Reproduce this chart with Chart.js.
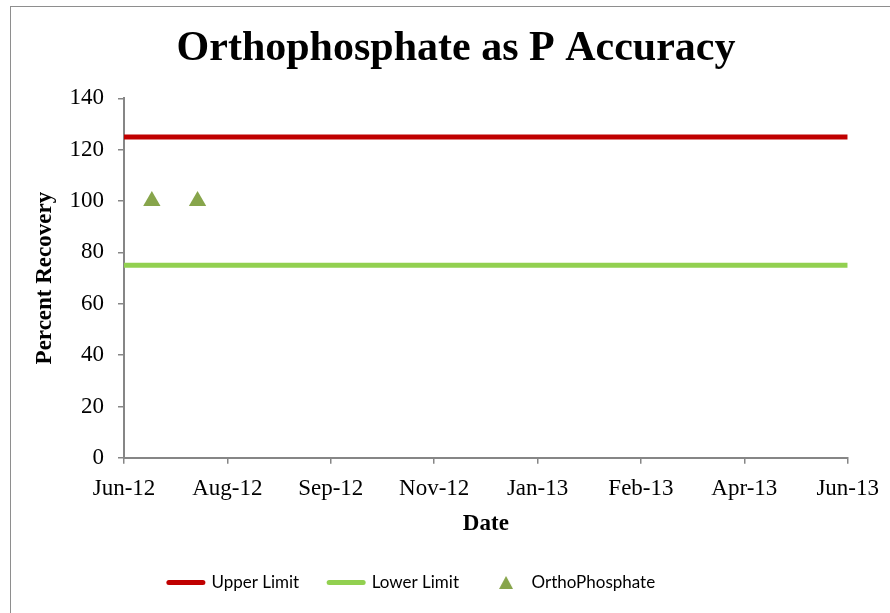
<!DOCTYPE html>
<html>
<head>
<meta charset="utf-8">
<script src="https://cdn.jsdelivr.net/npm/chart.js@4"></script>
<style>
  html, body { margin: 0; padding: 0; background: #fff; overflow: hidden; }
  #wrap { position: relative; width: 890px; height: 613px; }
  #frame { position: absolute; left: 10px; top: 6px; width: 900px; height: 620px; border: 1.5px solid #8e8e8e; }
  canvas { position: absolute; left: 0; top: 0; }
</style>
</head>
<body>
<div id="wrap">
  <div id="frame"></div>
  <canvas id="chart" width="890" height="613"></canvas>
</div>
<script>
// date axis: days counted from 11 Jun 2012, one label every 52 days
const tickLabels = ['Jun-12', 'Aug-12', 'Sep-12', 'Nov-12', 'Jan-13', 'Feb-13', 'Apr-13', 'Jun-13'];
const tickStep = 52;
const axisEnd = tickStep * (tickLabels.length - 1);

const upperLimit = 125;
const lowerLimit = 75;

const orthoDays = [14, 37];
const orthoValues = [100, 100];

const serif = "'Liberation Serif', 'DejaVu Serif', serif";
const axisGray = '#868686';
const orthoColor = '#87A54B';

// piccolo triangolo per la legenda (pointStyleWidth lo allargherebbe)
const legendTriangle = document.createElement('canvas');
legendTriangle.width = 14;
legendTriangle.height = 13;
const tctx = legendTriangle.getContext('2d');
tctx.fillStyle = orthoColor;
tctx.beginPath();
tctx.moveTo(7, 0);
tctx.lineTo(14, 13);
tctx.lineTo(0, 13);
tctx.closePath();
tctx.fill();

// titolo e legenda non sono centrati nell'originale
const boxShift = {
  id: 'boxShift',
  afterLayout(chart) {
    chart.titleBlock.left += 32;
    chart.titleBlock.right += 32;
    chart.legend.left -= 12;
    chart.legend.right -= 12;
    chart.legend.top -= 6;
    chart.legend.bottom -= 6;
  }
};

const chart = new Chart(document.getElementById('chart').getContext('2d'), {
  type: 'line',
  data: {
    datasets: [{
      label: 'Upper Limit',
      borderColor: '#C00000',
      backgroundColor: '#C00000',
      borderWidth: 5,
      pointRadius: 0,
      data: [{x: 0, y: upperLimit}, {x: axisEnd, y: upperLimit}]
    }, {
      label: 'Lower Limit',
      borderColor: '#92D050',
      backgroundColor: '#92D050',
      borderWidth: 5,
      pointRadius: 0,
      data: [{x: 0, y: lowerLimit}, {x: axisEnd, y: lowerLimit}]
    }, {
      label: 'OrthoPhosphate',
      showLine: false,
      borderColor: orthoColor,
      backgroundColor: orthoColor,
      borderWidth: 0,
      pointStyle: 'triangle',
      pointRadius: 10,
      data: orthoDays.map((d, i) => ({x: d, y: orthoValues[i]}))
    }]
  },
  options: {
    responsive: false,
    animation: false,
    layout: { padding: { left: 0, right: 42, top: 0, bottom: 6 } },
    plugins: {
      title: {
        display: true,
        text: 'Orthophosphate as P Accuracy',
        color: '#000',
        font: { family: serif, size: 42, weight: 'bold' },
        padding: { top: 24, bottom: 24 }
      },
      legend: {
        position: 'bottom',
        labels: {
          color: '#000',
          font: { family: 'Lato', size: 17 },
          usePointStyle: true,
          pointStyleWidth: 34,
          boxHeight: 11,
          padding: 30,
          generateLabels(chart) {
            return chart.data.datasets.map((ds, i) => ({
              text: ds.label,
              datasetIndex: i,
              fillStyle: ds.backgroundColor,
              strokeStyle: ds.borderColor,
              lineWidth: i < 2 ? 5 : 0,
              lineCap: 'round',
              pointStyle: i < 2 ? 'line' : legendTriangle,
              fontColor: '#000'
            }));
          }
        }
      },
      tooltip: { enabled: false }
    },
    scales: {
      x: {
        type: 'linear',
        min: 0,
        max: axisEnd,
        border: { color: axisGray, width: 2 },
        grid: { drawOnChartArea: false, color: axisGray, lineWidth: 1.5, tickLength: 6 },
        ticks: {
          stepSize: tickStep,
          color: '#000',
          padding: 11,
          maxRotation: 0,
          font: { family: serif, size: 23 },
          callback: (v) => tickLabels[v / tickStep]
        },
        title: {
          display: true,
          text: 'Date',
          color: '#000',
          font: { family: serif, size: 23, weight: 'bold' },
          padding: { top: -3, bottom: 12 }
        }
      },
      y: {
        min: 0,
        max: 140,
        border: { color: axisGray, width: 2 },
        grid: { drawOnChartArea: false, color: axisGray, lineWidth: 1.5, tickLength: 6 },
        ticks: {
          stepSize: 20,
          color: '#000',
          padding: 14,
          font: { family: serif, size: 23 }
        },
        title: {
          display: true,
          text: 'Percent Recovery',
          color: '#000',
          font: { family: serif, size: 23, weight: 'bold' },
          padding: { top: 31, bottom: 0 }
        },
        afterFit: (scale) => { scale.width = 124; }
      }
    }
  },
  plugins: [boxShift]
});
</script>
</body>
</html>
